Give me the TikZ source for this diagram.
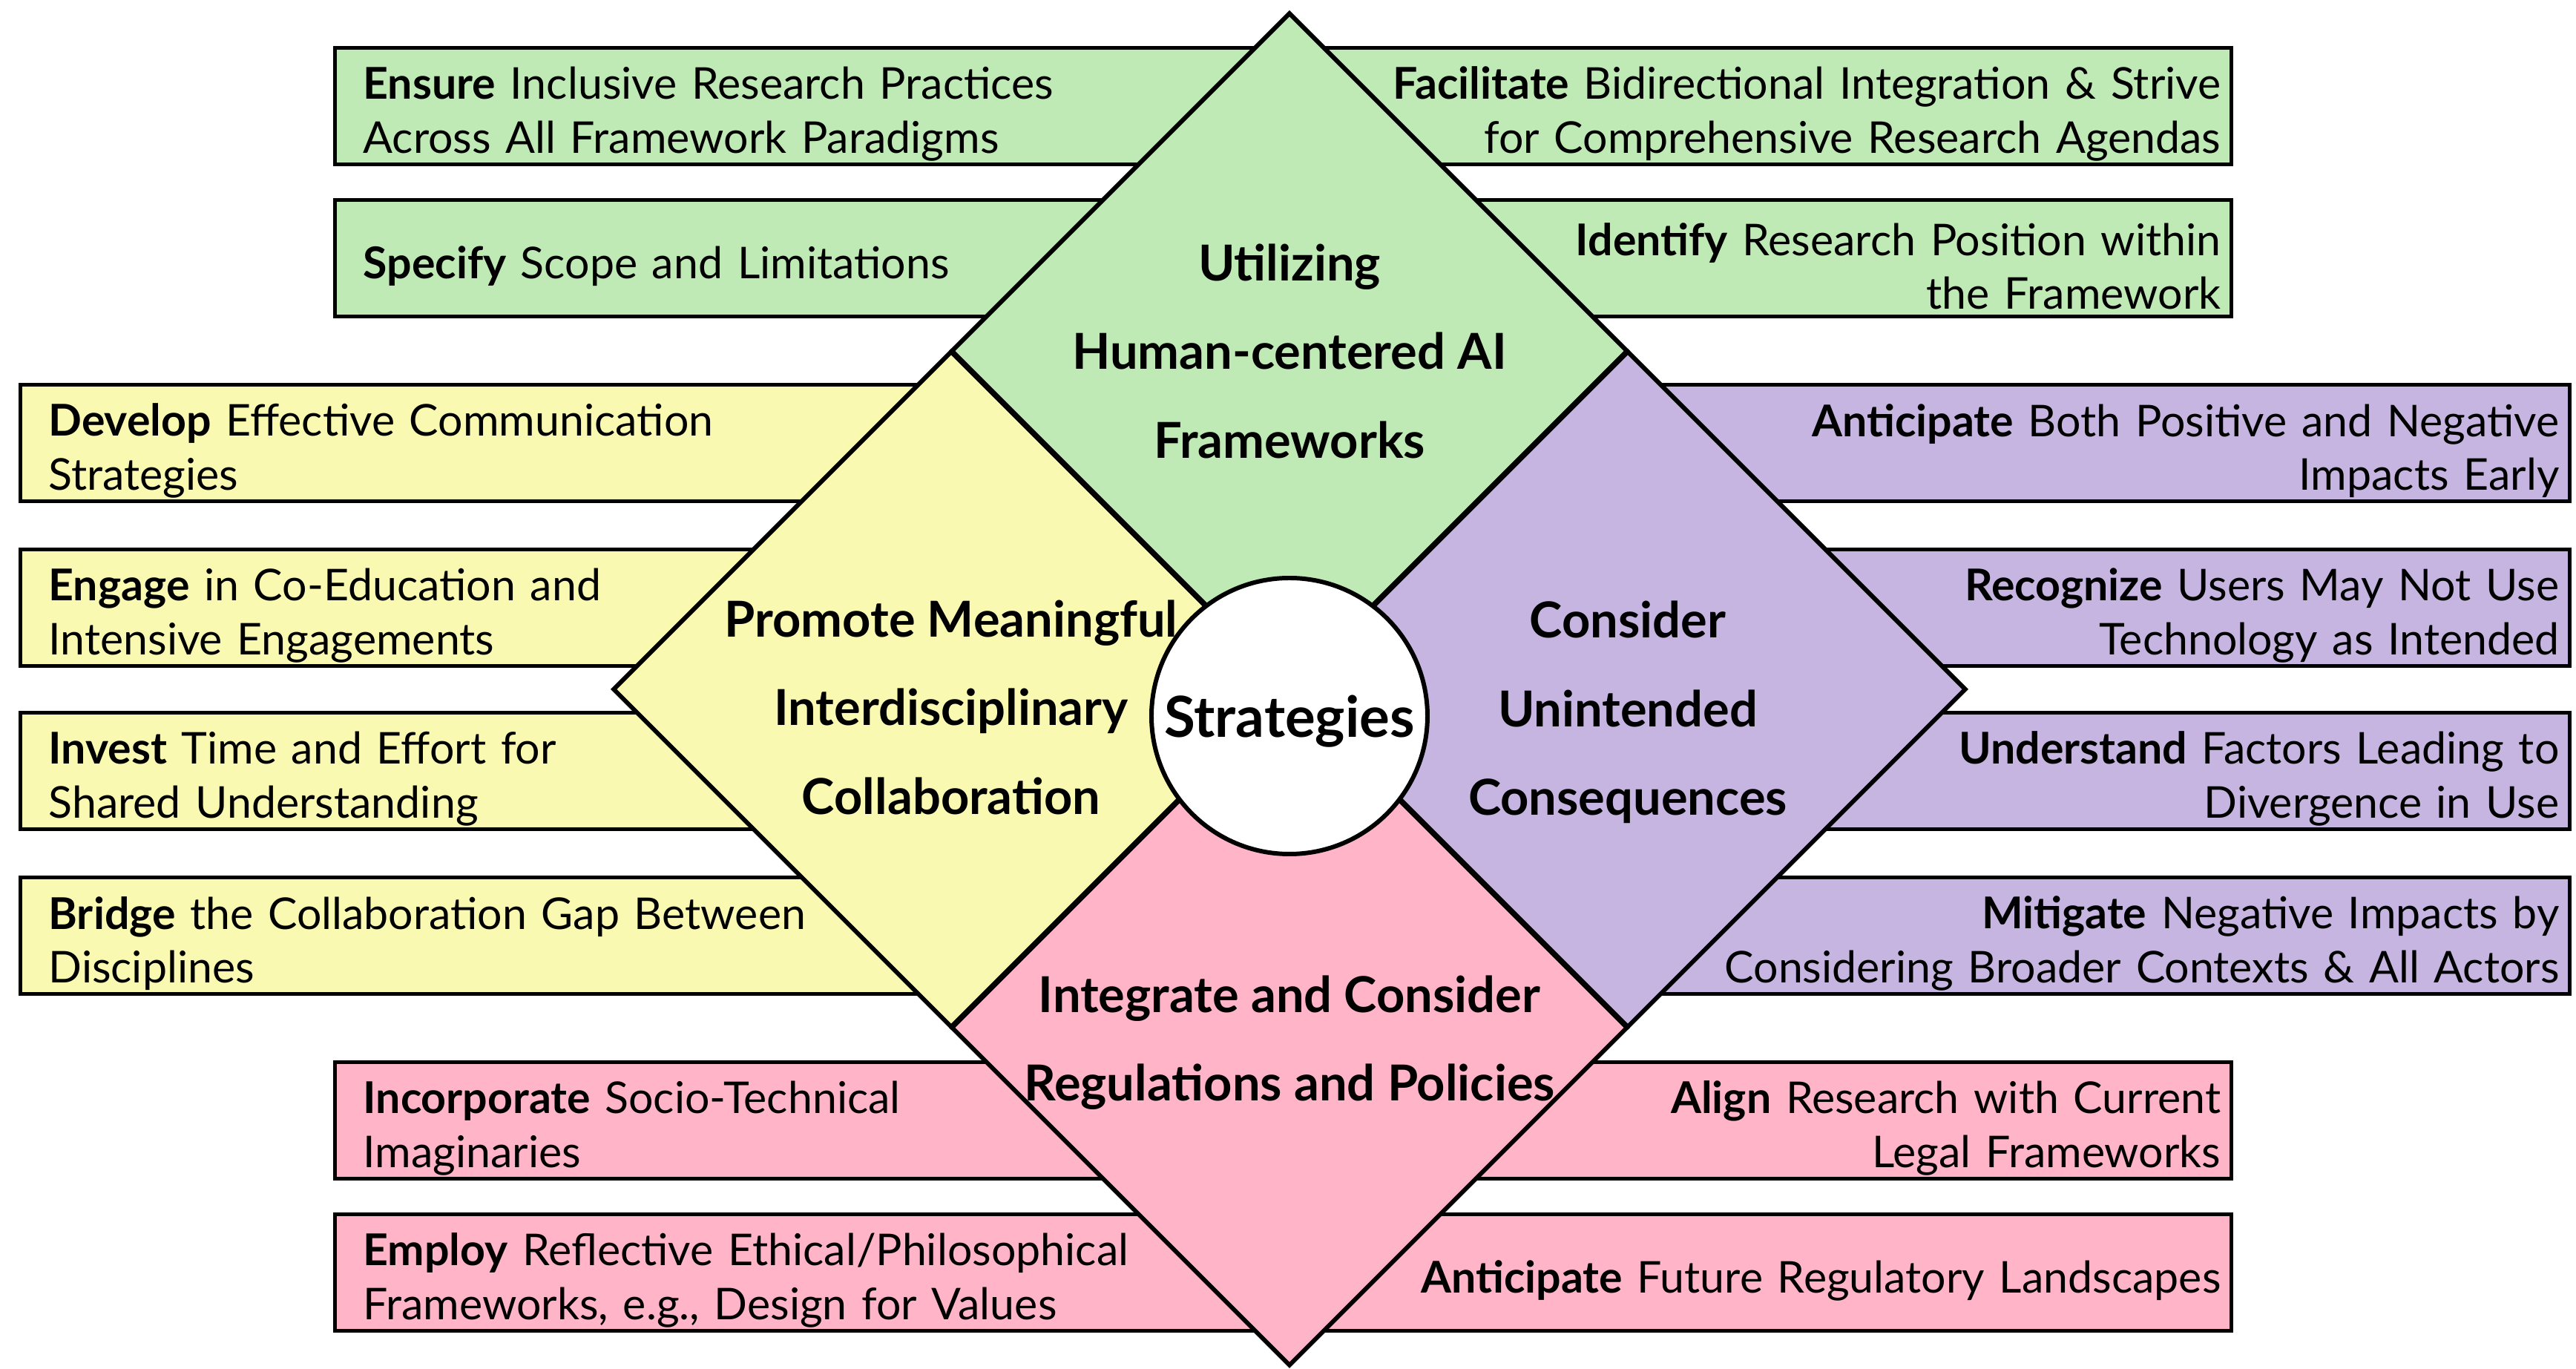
\documentclass[tikz,border=0pt]{standalone}
\usepackage{fontspec}
\setmainfont{Lato}
\usetikzlibrary{shapes.geometric}
\definecolor{hcgreen}{RGB}{191,233,181}
\definecolor{hcyellow}{RGB}{250,249,178}
\definecolor{hcpurple}{RGB}{198,181,224}
\definecolor{hcpink}{RGB}{255,181,199}

\begin{document}
\begin{tikzpicture}[
  box/.style = {draw, line width=1.5pt, minimum height=1.57cm, inner ysep=0pt, execute at begin node={\rule{0pt}{18.5pt}}, font=\fontsize{16.8}{20.6}\selectfont},
  lbox/.style = {box, anchor=west, align=left, inner xsep=0.38cm, text width=#1},
  rbox/.style = {box, anchor=east, align=right, inner xsep=0.14cm, text width=#1},
  tile/.style = {draw, diamond, line width=1.7pt, minimum width=9.12cm, minimum height=9.12cm, inner sep=0pt},
  tiletext/.style = {align=center, font=\bfseries\fontsize{19}{34}\selectfont},
  hub/.style = {draw, circle, fill=white, line width=1.7pt, minimum size=3.72cm, inner sep=0pt, text depth=0pt, font=\bfseries\fontsize{21.7}{26}\selectfont}]
  \useasboundingbox (-17.38,-9.16) rectangle (17.34,9.29);

  \node[lbox=12.13cm, fill=hcgreen] (g1) at (-12.89,7.86) {\textbf{Ensure} Inclusive Research Practices\\Across All Framework Paradigms};
  \node[lbox=12.13cm, fill=hcgreen] (g2) at (-12.89,5.81) {\textbf{Specify} Scope and Limitations};
  \node[rbox=12.44cm, fill=hcgreen] (g3) at (12.72,7.86) {\textbf{Facilitate} Bidirectional Integration \& Strive\\for Comprehensive Research Agendas};
  \node[rbox=12.44cm, fill=hcgreen] (g4) at (12.72,5.81) {\textbf{Identify} Research Position within\\the Framework};

  \node[lbox=11.81cm, fill=hcyellow] (y1) at (-17.13,3.32) {\textbf{Develop} Effective Communication\\Strategies};
  \node[lbox=11.81cm, fill=hcyellow] (y2) at (-17.13,1.10) {\textbf{Engage} in Co-Education and\\Intensive Engagements};
  \node[lbox=11.81cm, fill=hcyellow] (y3) at (-17.13,-1.10) {\textbf{Invest} Time and Effort for\\Shared Understanding};
  \node[lbox=11.81cm, fill=hcyellow] (y4) at (-17.13,-3.32) {\textbf{Bridge} the Collaboration Gap Between\\Disciplines};

  \node[rbox=12.44cm, fill=hcpurple] (p1) at (17.28,3.32) {\textbf{Anticipate} Both Positive and Negative\\Impacts Early};
  \node[rbox=12.44cm, fill=hcpurple] (p2) at (17.28,1.10) {\textbf{Recognize} Users May Not Use\\Technology as Intended};
  \node[rbox=12.44cm, fill=hcpurple] (p3) at (17.28,-1.10) {\textbf{Understand} Factors Leading to\\Divergence in Use};
  \node[rbox=12.44cm, fill=hcpurple] (p4) at (17.28,-3.32) {\textbf{Mitigate} Negative Impacts by\\Considering Broader Contexts \& All Actors};

  \node[lbox=12.13cm, fill=hcpink] (r1) at (-12.89,-5.81) {\textbf{Incorporate} Socio-Technical\\Imaginaries};
  \node[lbox=12.13cm, fill=hcpink] (r2) at (-12.89,-7.86) {\textbf{Employ} Reflective Ethical/Philosophical\\Frameworks, e.g., Design for Values};
  \node[rbox=12.44cm, fill=hcpink] (r3) at (12.72,-5.81) {\textbf{Align} Research with Current\\Legal Frameworks};
  \node[rbox=12.44cm, fill=hcpink] (r4) at (12.72,-7.86) {\textbf{Anticipate} Future Regulatory Landscapes};

  \node[tile, fill=hcgreen] (hcai) at (0,4.56) {};
  \node[tile, fill=hcyellow] (collab) at (-4.56,0) {};
  \node[tile, fill=hcpurple] (conseq) at (4.56,0) {};
  \node[tile, fill=hcpink] (policy) at (0,-4.56) {};

  \node[tiletext] (hcaitext) at (hcai.center) {Utilizing\\Human-centered AI\\Frameworks};
  \node[tiletext] (collabtext) at ([yshift=-0.24cm]collab.center) {Promote Meaningful\\Interdisciplinary\\Collaboration};
  \node[tiletext] (conseqtext) at ([yshift=-0.31cm]conseq.center) {Consider\\Unintended\\Consequences};
  \node[tiletext] (policytext) at ([yshift=-0.20cm]policy.center) {Integrate and Consider\\Regulations and Policies};

  \node[hub] (hub) at (0,-0.36) {Strategies};
\end{tikzpicture}
\end{document}
